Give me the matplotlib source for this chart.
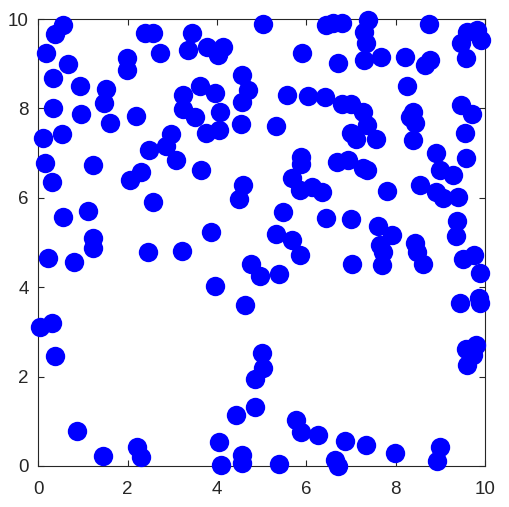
import matplotlib
matplotlib.use("Agg")
import matplotlib.pyplot as plt
import numpy as np

# scatter points (x, y)
x_vals = [
    0.37, 0.56, 0.17, 0.66, 0.32, 0.93, 1.51, 1.47, 0.32, 0.96,
    1.61, 2.19, 0.11, 0.52, 0.15, 0.31, 1.22, 1.98, 1.98, 2.39,
    2.57, 2.72, 3.45, 3.36, 3.77, 4.03, 4.14, 4.56, 4.70,
    4.55, 4.53, 3.62, 3.95, 3.23, 3.23, 3.51, 4.06, 4.05, 3.75,
    2.98, 2.87, 2.48, 3.08, 3.64, 2.31, 2.05, 4.59, 4.50, 2.57,
    # top right
    5.03, 6.44, 6.60, 6.79, 7.38, 7.29, 7.33, 7.29, 7.68, 5.91,
    6.70, 8.75, 8.20, 8.77, 8.65, 9.81, 9.92, 9.47, 9.57, 9.59,
    8.26, 5.56, 6.03, 6.41, 6.79, 7.01, 7.27, 7.35, 7.01, 7.11,
    7.56, 5.32, 8.39, 8.32, 8.43, 8.39, 9.47, 9.70, 9.55, 9.58,
    8.91, 8.99, 9.28, 8.54, 5.88, 5.89, 6.68, 6.94, 7.27, 7.35,
    # middle
    0.55, 1.12, 1.23, 1.22, 0.21, 0.81, 2.46, 3.22, 3.86, 4.77,
    4.96, 5.39, 3.95, 4.62, 0.04, 0.30, 5.67, 5.85, 6.12, 6.34,
    7.81, 8.91, 9.06, 9.40, 5.47, 6.44, 7.01, 7.61, 7.91, 7.64,
    7.72, 7.69, 9.37, 9.36, 5.33, 5.67, 5.85, 8.43, 8.47, 8.61,
    7.03, 9.51, 9.75, 9.88, 9.43, 9.88, 9.87,
    # bottom
    0.37, 0.86, 1.45, 2.20, 2.31, 4.05, 4.10, 4.55, 4.55, 4.42,
    4.85, 4.85, 5.00, 5.02, 5.39, 5.77, 5.89, 6.26, 6.64, 6.70,
    6.86, 7.33, 7.98, 8.99, 8.93, 9.57, 9.79, 9.72, 9.60,
]
y_vals = [
    9.66, 9.87, 9.23, 8.99, 8.69, 8.50, 8.43, 8.13, 8.02, 7.87,
    7.68, 7.83, 7.34, 7.42, 6.77, 6.35, 6.73, 9.12, 8.86, 9.69,
    9.69, 9.23, 9.68, 9.31, 9.38, 9.19, 9.38, 8.75, 8.41,
    8.15, 7.64, 8.50, 8.35, 8.30, 7.98, 7.80, 7.93, 7.52, 7.46,
    7.43, 7.16, 7.07, 6.85, 6.62, 6.58, 6.40, 6.29, 5.97, 5.91,
    9.89, 9.87, 9.92, 9.90, 9.98, 9.72, 9.46, 9.08, 9.16, 9.23,
    9.01, 9.89, 9.16, 9.08, 8.97, 9.75, 9.53, 9.47, 9.12, 9.71,
    8.50, 8.30, 8.28, 8.25, 8.10, 8.10, 7.93, 7.63, 7.44, 7.31,
    7.31, 7.61, 7.93, 7.81, 7.67, 7.29, 8.08, 7.87, 7.44, 6.88,
    7.00, 6.62, 6.51, 6.29, 6.92, 6.75, 6.81, 6.85, 6.66, 6.62,
    5.56, 5.71, 5.11, 4.87, 4.65, 4.57, 4.79, 4.81, 5.23, 4.53,
    4.24, 4.29, 4.03, 3.60, 3.10, 3.20, 6.44, 6.17, 6.25, 6.14,
    6.16, 6.14, 5.99, 6.02, 5.68, 5.54, 5.52, 5.37, 5.17, 4.94,
    4.79, 4.50, 5.49, 5.15, 5.20, 5.06, 4.72, 4.98, 4.79, 4.53,
    4.53, 4.62, 4.72, 4.31, 3.64, 3.64, 3.75,
    2.46, 0.78, 0.22, 0.43, 0.19, 0.54, 0.02, 0.25, 0.07, 1.14,
    1.31, 1.94, 2.52, 2.19, 0.04, 1.03, 0.75, 0.69, 0.13, 0.00,
    0.57, 0.47, 0.28, 0.43, 0.11, 2.61, 2.71, 2.48, 2.26,
]
ticks = [0, 2, 4, 6, 8, 10]

plt.rcParams["font.family"] = ["Liberation Sans", "DejaVu Sans"]

fig = plt.figure(figsize=(5.09, 5.07), dpi=100)
ax = fig.add_axes([0.0752, 0.0809, 0.8777, 0.8816])

ax.scatter(x_vals, y_vals, s=195, color="#0000ff", linewidths=0, clip_on=False, zorder=3)

ax.set_xlim(0, 10)
ax.set_ylim(0, 10)
ax.set_xticks(ticks)
ax.set_yticks(ticks)
ax.tick_params(direction="in", top=True, right=True, length=4, width=0.8,
               colors="#262626", labelsize=13.5)
ax.tick_params(axis="x", pad=11)
ax.tick_params(axis="y", pad=7)
for spine in ax.spines.values():
    spine.set_color("#262626")
    spine.set_linewidth(0.8)

fig.savefig("out.png", dpi=100)
